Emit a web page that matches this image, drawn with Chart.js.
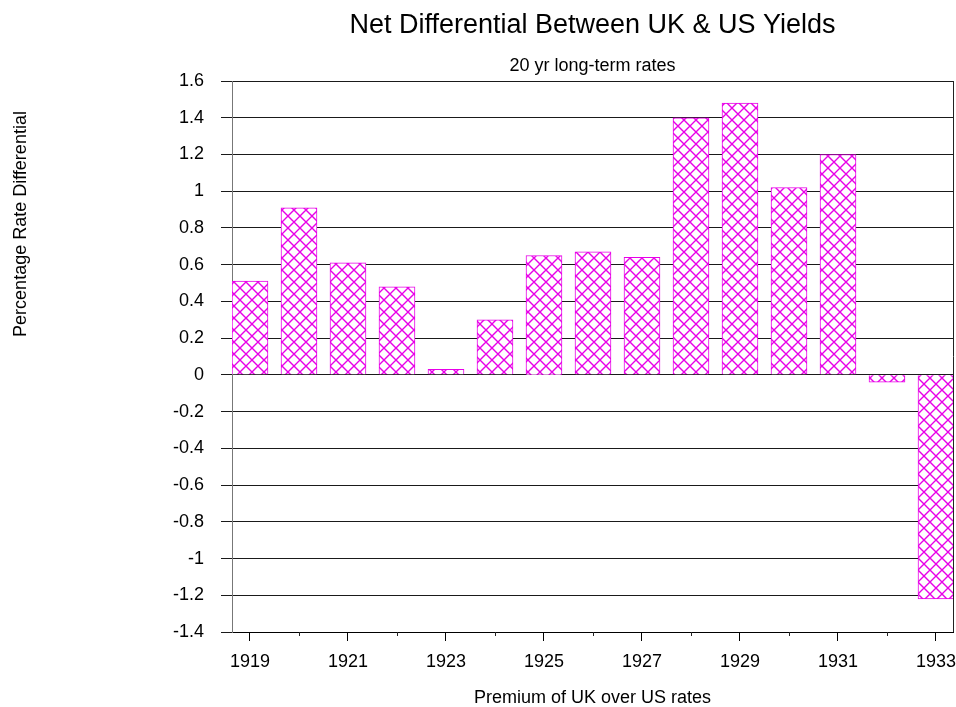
<!DOCTYPE html>
<html lang="en">
<head>
<meta charset="UTF-8" />
<title>Net Differential Between UK & US Yields</title>
<script src="https://cdn.jsdelivr.net/npm/chart.js"></script>
<style>
  html, body { margin: 0; padding: 0; background: #fff; }
  canvas { display: block; }
</style>
</head>
<body>
<canvas id="chart" width="956" height="707"></canvas>
<script>
// data
const years = [1919, 1920, 1921, 1922, 1923, 1924, 1925, 1926, 1927, 1928, 1929, 1930, 1931, 1932, 1933];
const differential = [0.51, 0.91, 0.61, 0.48, 0.03, 0.30, 0.65, 0.67, 0.64, 1.40, 1.48, 1.02, 1.20, -0.04, -1.22];
const labelledYears = [1919, 1921, 1923, 1925, 1927, 1929, 1931, 1933];
const minorYears = [1920, 1922, 1924, 1926, 1928, 1930, 1932];

const titleText = 'Net Differential Between UK & US Yields';
const subtitleText = '20 yr long-term rates';
const xTitle = 'Premium of UK over US rates';
const yTitle = 'Percentage Rate Differential';

const FONT = "'Liberation Sans', Arial, Helvetica, sans-serif";
const MAGENTA = 'rgb(232, 0, 232)';

Chart.defaults.font.family = FONT;
Chart.defaults.color = '#000';

// cross hatch fill
function makeHatch() {
    const size = 12;
    const c = document.createElement('canvas');
    c.width = size; c.height = size;
    const g = c.getContext('2d');
    g.fillStyle = '#fff';
    g.fillRect(0, 0, size, size);
    g.strokeStyle = MAGENTA;
    g.lineWidth = 1.4;
    g.beginPath();
    g.moveTo(-1, -1); g.lineTo(size + 1, size + 1);
    g.moveTo(-1, size + 1); g.lineTo(size + 1, -1);
    g.stroke();
    return g.createPattern(c, 'repeat');
}

const textPlugin = {
    id: 'texts',
    afterDraw(chart) {
        const ctx = chart.ctx;
        const area = chart.chartArea;
        const cx = (area.left + area.right) / 2;
        ctx.save();
        ctx.fillStyle = '#000';
        ctx.textAlign = 'center';
        ctx.textBaseline = 'alphabetic';
        ctx.font = '27px ' + FONT;
        ctx.fillText(titleText, cx, 33);
        ctx.font = '18px ' + FONT;
        ctx.fillText(subtitleText, cx, 71);
        ctx.fillText(xTitle, cx, 703);
        ctx.translate(26, 224);
        ctx.rotate(-Math.PI / 2);
        ctx.fillText(yTitle, 0, 0);
        ctx.restore();

        // right frame line and short minor ticks
        const xs = chart.scales.x;
        ctx.save();
        ctx.strokeStyle = '#222';
        ctx.lineWidth = 1;
        ctx.beginPath();
        ctx.moveTo(Math.round(area.right) + 0.5, area.top);
        ctx.lineTo(Math.round(area.right) + 0.5, area.bottom);
        for (const yr of minorYears) {
            const px = Math.round(xs.getPixelForValue(yr)) + 0.5;
            ctx.moveTo(px, area.bottom);
            ctx.lineTo(px, area.bottom + 4);
        }
        ctx.stroke();
        ctx.restore();
    }
};

const points = years.map((yr, i) => ({ x: yr, y: differential[i] }));

new Chart(document.getElementById('chart'), {
    type: 'bar',
    data: {
        datasets: [{
            label: 'Differential',
            data: points,
            backgroundColor: makeHatch(),
            borderColor: MAGENTA,
            borderWidth: 1,
            barThickness: 36
        }]
    },
    options: {
        responsive: false,
        animation: false,
        layout: { padding: { top: 81, right: 3, left: 0, bottom: 0 } },
        plugins: {
            legend: { display: false },
            tooltip: { enabled: false }
        },
        scales: {
            x: {
                type: 'linear',
                offset: false,
                min: 1918.633,
                max: 1933.347,
                afterBuildTicks(scale) {
                    scale.ticks = labelledYears.map(v => ({ value: v }));
                },
                afterFit(scale) {
                    scale.height = 75;
                    scale.paddingLeft = 0;
                    scale.paddingRight = 0;
                },
                grid: { offset: false, drawOnChartArea: false, tickLength: 9, color: '#000' },
                border: { color: '#000' },
                ticks: {
                    font: { size: 18 },
                    padding: 10,
                    maxRotation: 0,
                    callback: v => String(v)
                }
            },
            y: {
                min: -1.4,
                max: 1.6,
                z: 1,
                afterFit(scale) {
                    scale.width = 232;
                    scale.paddingTop = 0;
                    scale.paddingBottom = 0;
                },
                grid: { color: '#1a1a1a', tickLength: 11 },
                border: { color: '#777' },
                ticks: {
                    stepSize: 0.2,
                    font: { size: 18 },
                    padding: 17,
                    callback: v => String(+v.toFixed(1))
                }
            }
        }
    },
    plugins: [textPlugin]
});
</script>
</body>
</html>
